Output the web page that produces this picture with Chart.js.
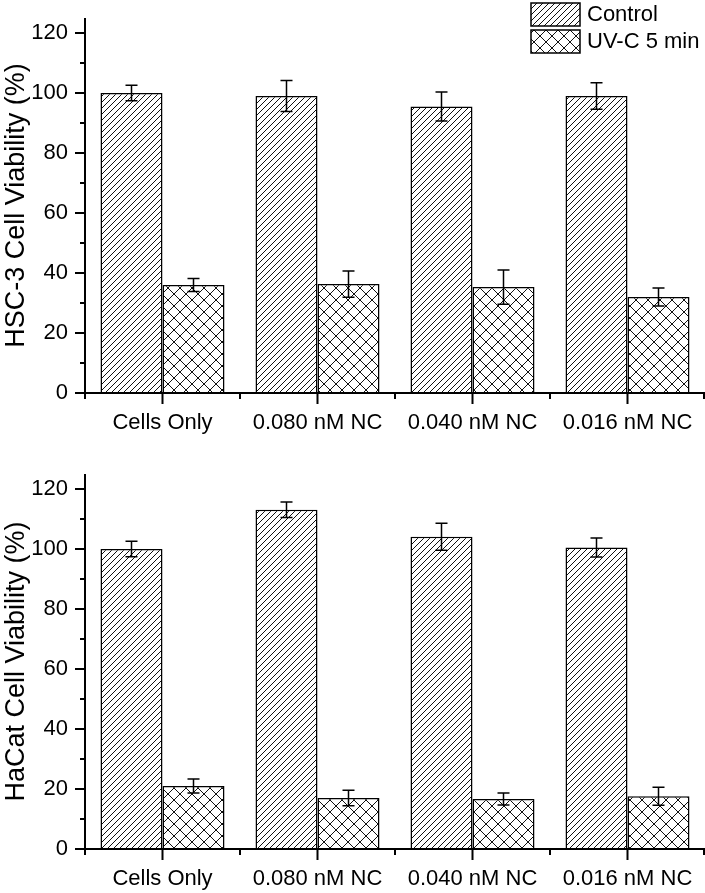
<!DOCTYPE html>
<html>
<head>
<meta charset="utf-8">
<script src="https://cdn.jsdelivr.net/npm/chart.js@4"></script>
<style>
    body { margin: 0; background: #fff; }
    canvas { display: block; }
</style>
</head>
<body>
<canvas id="top" width="705" height="446"></canvas>
<canvas id="bottom" width="705" height="447"></canvas>
<script>
const categories = ['Cells Only', '0.080 nM NC', '0.040 nM NC', '0.016 nM NC'];
const seriesNames = ['Control', 'UV-C 5 min'];
const yTicks = [0, 10, 20, 30, 40, 50, 60, 70, 80, 90, 100, 110, 120];

const hscControl = [100, 99, 95.5, 99];
const hscControlErr = [2.6, 5.2, 4.8, 4.4];
const hscUV = [36, 36.3, 35.3, 32];
const hscUVErr = [2.2, 4.4, 5.7, 3];

const hacatControl = [100, 113.1, 104.1, 100.5];
const hacatControlErr = [2.6, 2.6, 4.5, 3.2];
const hacatUV = [21, 17, 16.7, 17.6];
const hacatUVErr = [2.3, 2.6, 2, 3];

const FONT = 'Liberation Sans, Arial, sans-serif';

function hatch(size, cross) {
    const c = document.createElement('canvas');
    c.width = size;
    c.height = size;
    const g = c.getContext('2d');
    g.fillStyle = '#fff';
    g.fillRect(0, 0, size, size);
    g.strokeStyle = '#111';
    g.lineWidth = 1;
    g.beginPath();
    for (const k of [-size, 0, size]) {
        g.moveTo(k, size);
        g.lineTo(k + size, 0);
        if (cross) {
            g.moveTo(k, 0);
            g.lineTo(k + size, size);
        }
    }
    g.stroke();
    return g.createPattern(c, 'repeat');
}

const diagFill = hatch(6, false);
const crossFill = hatch(12, true);

// axes, ticks, error bars and legend drawn on top of the bars
const extrasPlugin = {
    id: 'extras',
    afterDatasetsDraw(chart, args, opts) {
        const ctx = chart.ctx;
        const x = chart.scales.x, y = chart.scales.y;
        const a = chart.chartArea;
        ctx.save();
        ctx.strokeStyle = '#000';

        // error bars
        ctx.lineWidth = 1.5;
        chart.data.datasets.forEach((ds, i) => {
            chart.getDatasetMeta(i).data.forEach((bar, j) => {
                const v = ds.data[j], e = ds.errors[j];
                const t = y.getPixelForValue(v + e), b = y.getPixelForValue(v - e);
                ctx.beginPath();
                ctx.moveTo(bar.x, t);
                ctx.lineTo(bar.x, b);
                ctx.moveTo(bar.x - 6, t);
                ctx.lineTo(bar.x + 6, t);
                ctx.moveTo(bar.x - 6, b);
                ctx.lineTo(bar.x + 6, b);
                ctx.stroke();
            });
        });

        // axis lines
        ctx.lineWidth = 2;
        ctx.beginPath();
        ctx.moveTo(a.left, a.top);
        ctx.lineTo(a.left, a.bottom);
        ctx.moveTo(a.left - 1, a.bottom);
        ctx.lineTo(a.right, a.bottom);
        ctx.stroke();

        // y ticks
        ctx.beginPath();
        yTicks.forEach(v => {
            const py = y.getPixelForValue(v);
            const len = v % 20 === 0 ? 10 : 5;
            ctx.moveTo(a.left - len, py);
            ctx.lineTo(a.left, py);
        });
        // x ticks
        const step = x.getPixelForValue(1) - x.getPixelForValue(0);
        for (let i = 0; i < categories.length; i++) {
            const px = x.getPixelForValue(i);
            ctx.moveTo(px, a.bottom);
            ctx.lineTo(px, a.bottom + 11);
        }
        for (let i = 0; i <= categories.length; i++) {
            const px = i < categories.length ? x.getPixelForValue(i) - step / 2 : a.right - 1;
            ctx.moveTo(px, a.bottom);
            ctx.lineTo(px, a.bottom + 6);
        }
        ctx.stroke();

        // legend
        if (opts.legend) {
            ctx.lineWidth = 1.5;
            ctx.font = '22px ' + FONT;
            ctx.textBaseline = 'middle';
            chart.data.datasets.forEach((ds, i) => {
                const bx = 531, by = 3 + i * 27;
                ctx.fillStyle = ds.backgroundColor;
                ctx.fillRect(bx, by, 49, 23);
                ctx.strokeRect(bx, by, 49, 23);
                ctx.fillStyle = '#000';
                ctx.fillText(ds.label, 587, by + 12);
            });
        }
        ctx.restore();
    }
};

function makeChart(id, control, controlErr, uv, uvErr, title, topPad, xHeight, legend) {
    return new Chart(document.getElementById(id), {
        type: 'bar',
        data: {
            labels: categories,
            datasets: [
                {
                    label: seriesNames[0],
                    data: control,
                    errors: controlErr,
                    backgroundColor: diagFill,
                    borderColor: '#000',
                    borderWidth: 1.5
                },
                {
                    label: seriesNames[1],
                    data: uv,
                    errors: uvErr,
                    backgroundColor: crossFill,
                    borderColor: '#000',
                    borderWidth: 1.5
                }
            ]
        },
        options: {
            responsive: false,
            devicePixelRatio: 1,
            animation: false,
            layout: { padding: { top: topPad, left: 0, right: 0, bottom: 0 } },
            datasets: { bar: { categoryPercentage: 0.8, barPercentage: 1 } },
            plugins: {
                legend: { display: false },
                tooltip: { enabled: false },
                extras: { legend: legend }
            },
            scales: {
                x: {
                    grid: { display: false },
                    border: { display: false },
                    ticks: {
                        color: '#000',
                        font: { family: FONT, size: 22 },
                        padding: 9,
                        maxRotation: 0,
                        autoSkip: false
                    },
                    afterFit: s => { s.height = xHeight; }
                },
                y: {
                    min: 0,
                    max: 125,
                    grid: { display: false },
                    border: { display: false },
                    afterBuildTicks: s => { s.ticks = yTicks.map(v => ({ value: v })); },
                    ticks: {
                        color: '#000',
                        font: { family: FONT, size: 22 },
                        padding: 9,
                        callback: v => (v % 20 === 0 ? v : '')
                    },
                    title: {
                        display: true,
                        text: title,
                        color: '#000',
                        font: { family: FONT, size: 27 },
                        padding: { top: 0, bottom: 0 }
                    },
                    afterFit: s => {
                        s.width = 85;
                        s.paddingTop = 0;
                        s.paddingBottom = 0;
                    }
                }
            }
        },
        plugins: [extrasPlugin]
    });
}

makeChart('top', hscControl, hscControlErr, hscUV, hscUVErr, 'HSC-3 Cell Viability (%)', 18, 53, true);
makeChart('bottom', hacatControl, hacatControlErr, hacatUV, hacatUVErr, 'HaCat Cell Viability (%)', 28, 44, false);
</script>
</body>
</html>
